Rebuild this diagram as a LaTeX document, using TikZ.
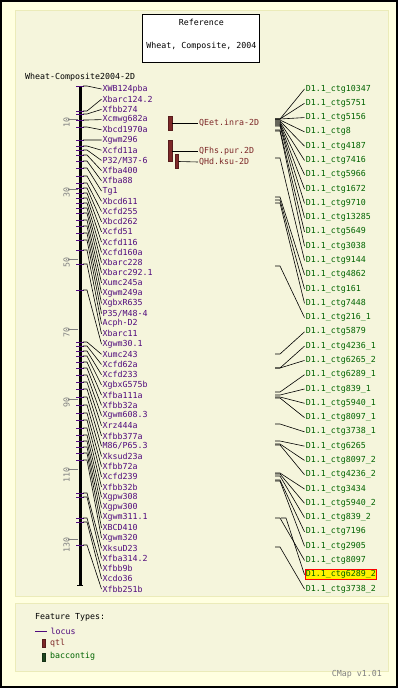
\documentclass[tikz,border=0pt]{standalone}
\usepackage{fontspec}
\setmonofont{DejaVu Sans Mono}
\usetikzlibrary{positioning}
\definecolor{bgc}{RGB}{255,255,224}
\definecolor{panelc}{RGB}{245,245,220}
\definecolor{pedge}{RGB}{235,235,185}
\definecolor{locc}{RGB}{80,10,125}
\definecolor{qtlc}{RGB}{125,40,40}
\definecolor{ctgc}{RGB}{0,100,0}
\definecolor{bacc}{RGB}{30,70,30}
\tikzset{
  lbl/.style={anchor=west,inner sep=1pt,font=\ttfamily\fontsize{8.3}{9}\selectfont},
  loc/.style={lbl,text=locc},
  qtl/.style={lbl,text=qtlc},
  ctg/.style={lbl,text=ctgc},
  conn/.style={line width=0.6pt},
  tick/.style={locc,line width=0.9pt},
  qbar/.style={draw=qtlc!70!black,fill=qtlc,minimum width=3.4pt,inner sep=0pt,line width=0.4pt},
  scl/.style={black!50,line width=0.6pt},
}

\begin{document}
\begin{tikzpicture}[x=1pt,y=-1pt]
  \useasboundingbox (0,0) rectangle (398,688);
  \fill[bgc] (0,0) rectangle (398,688);
  \draw[line width=2pt] (1,1) rectangle (397,687);
  \filldraw[fill=panelc,draw=pedge,line width=1pt] (15,10) rectangle (388,596);
  \filldraw[fill=panelc,draw=pedge,line width=1pt] (15,603) rectangle (388,671);

  % title box
  \node[draw,fill=white,minimum width=117pt,minimum height=48pt,inner sep=0pt,line width=0.8pt] (box) at (201.3,38.2) {};
  \node[lbl,anchor=center] (ref) at (201.3,22.7) {Reference};
  \node[lbl,anchor=center] (wcy) at (201.3,46) {Wheat, Composite, 2004};
  \node[lbl] (mapname) at (24,77.3) {Wheat-Composite2004-2D};

  % map axis
  \draw[line width=3pt] (80,86) -- (80,585);
  \draw[line width=0.8pt] (77,86) -- (83,86);
  \draw[line width=0.8pt] (77,585) -- (83,585);
  \foreach \v in {10,30,...,130} {
    \pgfmathsetmacro\sy{84+3.5*\v}
    \draw[scl] (68,\sy) -- (78,\sy);
    \node[lbl,text=black!50,rotate=90,anchor=east,inner sep=0pt] at (66.5,\sy-2) {\v};
  }

  % loci
  \foreach \my/\nm [count=\i] in {86/XWB124pba,111/Xbarc124.2,114/Xfbb274,120/Xcmwg682a,
      127/Xbcd1970a,140/Xgwm296,146/Xcfd11a,150/P32\slash M37-6,155/Xfba400,161/Xfba88,
      168/Tg1,176/Xbcd611,183/Xcfd255,188/Xbcd262,193/Xcfd51,198/Xcfd116,203/Xcfd160a,
      208/Xbarc228,213/Xbarc292.1,220/Xumc245a,226/Xgwm249a,233/XgbxR635,240/P35\slash M48-4,
      250/Acph-D2,264/Xbarc11,290/Xgwm30.1,342/Xumc243,346/Xcfd62a,351/Xcfd233,
      356/XgbxG575b,362/Xfba111a,368/Xfbb32a,375/Xgwm608.3,382/Xrz444a,389/Xfbb377a,
      397/M86\slash P65.3,405/Xksud23a,413/Xfbb72a,420/Xcfd239,428/Xfbb32b,435/Xgpw308,
      441/Xgpw300,447/Xgwm311.1,453/XBCD410,460/Xgwm320,493/XksuD23,497/Xfba314.2,
      518/Xfbb9b,522/Xcdo36,545/Xfbb251b} {
    \pgfmathsetmacro\ly{89+(\i-1)*10.2041}
    \coordinate (m\i) at (83,\my);
    \draw[tick] (76,\my) -- (84,\my);
    \node[loc] (l\i) at (101.5,\ly) {\nm};
    \draw[conn] (m\i) -- ++(4,0) -- (l\i.west);
  }

  % qtl
  \node[qbar,minimum height=14.7pt] (qb1) at (170,123.3) {};
  \node[qtl] (q1) at (198,123.3) {QEet.inra-2D};
  \draw[conn] (qb1.east) -- (q1.west);
  \node[qbar,minimum height=21.7pt] (qb2) at (170,150.8) {};
  \node[qtl] (q2) at (198,150.8) {QFhs.pur.2D};
  \draw[conn] (qb2.east) -- (q2.west);
  \node[qbar,minimum height=14.3pt] (qb3) at (176.7,161.5) {};
  \node[qtl] (q3) at (198,162) {QHd.ksu-2D};
  \draw[conn] (qb3.east) -- (q3.west);

  % bac contigs
  \foreach \fy/\fx/\nm [count=\i] in {119/275/10347,119/275/5751,119/275/5156,120/275/8,
      121/275/4187,122/275/7416,123/275/5966,124/275/1672,125/275/9710,126/275/13285,
      130/275/5649,131/275/3038,158/275/9144,197/275/4862,200/275/161,203/275/7448,
      266/275/216\_1,354/275/5879,368/275/4236\_1,368/275/6265\_2,392/275/6289\_1,
      395/275/839\_1,397/275/5940\_1,398/275/8097\_1,424/275/3738\_1,441/275/6265,
      444/275/8097\_2,445/275/4236\_2,473/275/3434,474/275/5940\_2,476/275/839\_2,
      480/275/7196,481/275/2905,518/275/8097,518/281/6289\_2,547/275/3738\_2} {
    \pgfmathsetmacro\ly{89+(\i-1)*14.2857}
    \ifnum\i=35 \def\hlfill{yellow}\def\hldraw{red}\else\def\hlfill{none}\def\hldraw{none}\fi
    \coordinate (f\i) at (\fx,\fy);
    \node[ctg,fill=\hlfill,draw=\hldraw,line width=0.8pt] (c\i) at (304.5,\ly) {D1.1\_ctg\nm};
    \draw[conn] (f\i) -- ++(5,0) -- (c\i.west);
  }

  % legend
  \node[lbl] (ftypes) at (34,617) {Feature Types:};
  \draw[locc,line width=0.9pt] (35,631) -- (47,631);
  \node[loc] (lgloc) at (49.5,631) {locus};
  \node[qbar,minimum height=8pt,minimum width=3pt] (lgqb) at (43.7,643) {};
  \node[qtl] (lgqtl) at (49,643) {qtl};
  \node[draw=bacc!70!black,fill=bacc,minimum height=8pt,minimum width=3pt,inner sep=0pt] (lgbb) at (43.8,656.7) {};
  \node[ctg] (lgbac) at (49,656.7) {baccontig};
  \node[lbl,anchor=east,text=black!50] (ver) at (383,674) {CMap v1.01};
\end{tikzpicture}
\end{document}
